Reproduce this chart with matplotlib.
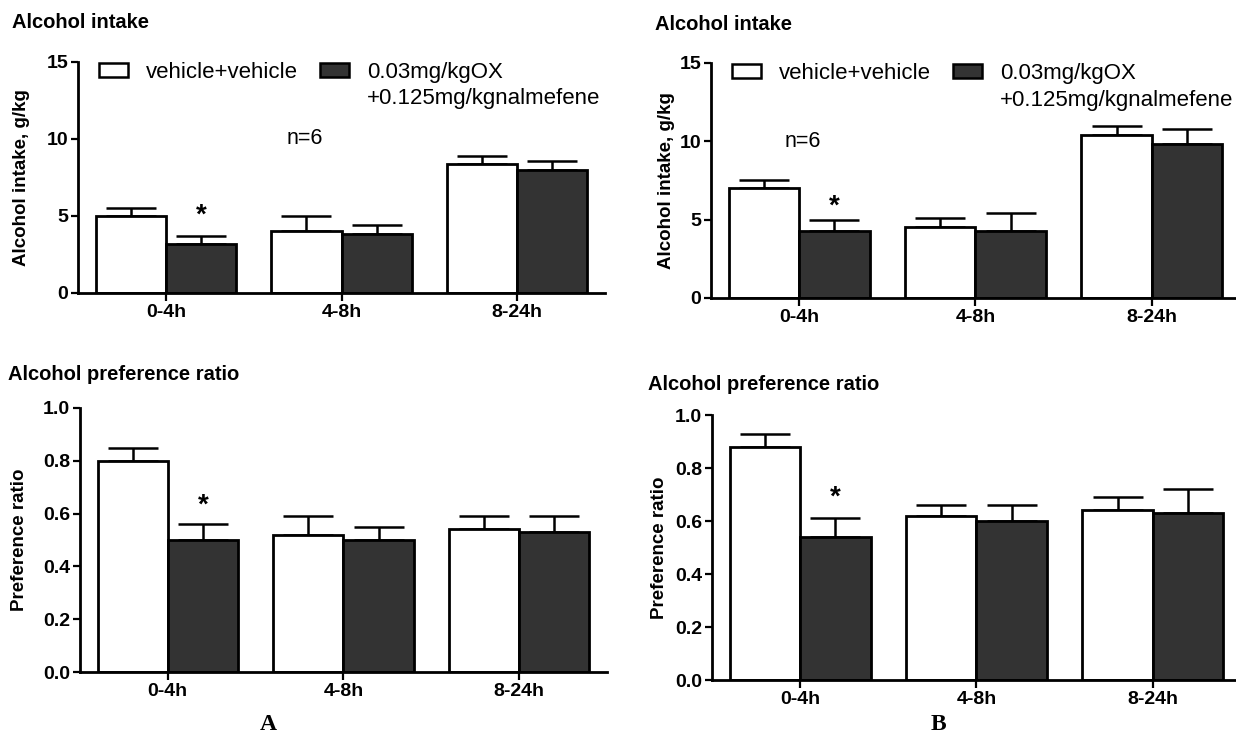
import numpy as np
import matplotlib
matplotlib.use("Agg")
import matplotlib.pyplot as plt
from matplotlib.patches import Patch

plt.rcParams['font.family'] = ['Liberation Sans', 'DejaVu Sans']

# Datos
grupos = ["0-4h", "4-8h", "8-24h"]
etiqueta_vv = "vehicle+vehicle"
etiqueta_ox = "0.03mg/kgOX"
etiqueta_ox2 = "+0.125mg/kgnalmefene"

# Panel A - ingesta de alcohol
a_ing_vv = [5.0, 4.0, 8.4]
a_ing_vv_err = [0.5, 1.0, 0.5]
a_ing_ox = [3.2, 3.8, 8.0]
a_ing_ox_err = [0.5, 0.6, 0.6]

# Panel B - ingesta de alcohol
b_ing_vv = [7.0, 4.5, 10.4]
b_ing_vv_err = [0.5, 0.6, 0.6]
b_ing_ox = [4.3, 4.3, 9.8]
b_ing_ox_err = [0.7, 1.1, 1.0]

# Panel A - ratio de preferencia
a_pref_vv = [0.80, 0.52, 0.54]
a_pref_vv_err = [0.05, 0.07, 0.05]
a_pref_ox = [0.50, 0.50, 0.53]
a_pref_ox_err = [0.06, 0.05, 0.06]

# Panel B - ratio de preferencia
b_pref_vv = [0.88, 0.62, 0.64]
b_pref_vv_err = [0.05, 0.04, 0.05]
b_pref_ox = [0.54, 0.60, 0.63]
b_pref_ox_err = [0.07, 0.06, 0.09]

# asterisco (valor y) y texto n=6
a_ing_star = 5.0
b_ing_star = 5.8
a_pref_star = 0.63
b_pref_star = 0.69
n_texto = "n=6"

OSCURO = '#333333'


def panel(ax, vv, vv_err, ox, ox_err, star_y, ylim, yticks, ytick_fmt, ylabel, label_x):
    x = np.arange(len(grupos))
    w = 0.4
    ax.bar(x - w / 2, vv, w, color='white', edgecolor='black', linewidth=2, zorder=2)
    ax.bar(x + w / 2, ox, w, color=OSCURO, edgecolor='black', linewidth=2, zorder=2)
    ax.errorbar(x - w / 2, vv, yerr=[np.zeros(3), vv_err], fmt='none', ecolor='black',
                elinewidth=1.8, capsize=18, capthick=1.8, zorder=1)
    ax.errorbar(x + w / 2, ox, yerr=[np.zeros(3), ox_err], fmt='none', ecolor='black',
                elinewidth=1.8, capsize=18, capthick=1.8, zorder=1)
    ax.text(x[0] + w / 2, star_y, "*", ha='center', va='center', fontsize=20, fontweight='bold')
    ax.set_xlim(-0.5, 2.5)
    ax.set_ylim(*ylim)
    ax.set_xticks(x)
    ax.set_xticklabels(grupos, fontweight='bold', fontsize=14)
    ax.set_yticks(yticks)
    ax.set_yticklabels([ytick_fmt.format(v) for v in yticks], fontweight='bold', fontsize=14)
    ax.set_ylabel(ylabel, fontweight='bold', fontsize=13.5)
    ax.yaxis.set_label_coords(label_x, 0.5)
    for s in ['top', 'right']:
        ax.spines[s].set_visible(False)
    for s in ['left', 'bottom']:
        ax.spines[s].set_linewidth(2)
    ax.tick_params(axis='both', width=1.6, length=5, direction='out', pad=2)
    ax.tick_params(axis='x', length=6)


def leyenda(ax):
    handles = [Patch(facecolor='white', edgecolor='black', linewidth=1.8),
               Patch(facecolor=OSCURO, edgecolor='black', linewidth=1.8)]
    leg = ax.legend(handles, [etiqueta_vv, etiqueta_ox], ncol=2, loc='center left',
                    bbox_to_anchor=(0.04, 0.955), frameon=False, fontsize=16,
                    handlelength=1.3, handleheight=0.6, columnspacing=1.0, handletextpad=0.8,
                    borderaxespad=0, borderpad=0)
    return leg


fig = plt.figure(figsize=(12.36, 7.35), dpi=100)

axA1 = fig.add_axes([0.0631, 0.6014, 0.4264, 0.3143])
axB1 = fig.add_axes([0.5752, 0.5946, 0.4280, 0.3197])
axA2 = fig.add_axes([0.0647, 0.0857, 0.4264, 0.3592])
axB2 = fig.add_axes([0.5760, 0.0748, 0.4280, 0.3605])

panel(axA1, a_ing_vv, a_ing_vv_err, a_ing_ox, a_ing_ox_err, a_ing_star,
      (0, 15), [0, 5, 10, 15], "{:g}", "Alcohol intake, g/kg", -0.091)
panel(axB1, b_ing_vv, b_ing_vv_err, b_ing_ox, b_ing_ox_err, b_ing_star,
      (0, 15), [0, 5, 10, 15], "{:g}", "Alcohol intake, g/kg", -0.068)
panel(axA2, a_pref_vv, a_pref_vv_err, a_pref_ox, a_pref_ox_err, a_pref_star,
      (0, 1.0), [0, 0.2, 0.4, 0.6, 0.8, 1.0], "{:.1f}", "Preference ratio", -0.099)
panel(axB2, b_pref_vv, b_pref_vv_err, b_pref_ox, b_pref_ox_err, b_pref_star,
      (0, 1.0), [0, 0.2, 0.4, 0.6, 0.8, 1.0], "{:.1f}", "Preference ratio", -0.083)

fig.canvas.draw()
for ax in (axA1, axB1):
    leg = leyenda(ax)
    fig.canvas.draw()
    bb = leg.get_texts()[1].get_window_extent()
    x0 = ax.transAxes.inverted().transform((bb.x0, bb.y0))[0]
    ax.text(x0, 0.84, etiqueta_ox2, transform=ax.transAxes, fontsize=16, va='center')

axA1.text(0.79, 10.0, n_texto, ha='center', va='center', fontsize=15.5)
axB1.text(0.02, 10.0, n_texto, ha='center', va='center', fontsize=15.5)

# titulos
fig.text(12 / 1236, 1 - 22 / 735, "Alcohol intake", fontsize=14.5, fontweight='bold', va='center')
fig.text(655 / 1236, 1 - 24 / 735, "Alcohol intake", fontsize=14.5, fontweight='bold', va='center')
fig.text(8 / 1236, 1 - 375 / 735, "Alcohol preference ratio", fontsize=14.5, fontweight='bold', va='center')
fig.text(648 / 1236, 1 - 385 / 735, "Alcohol preference ratio", fontsize=14.5, fontweight='bold', va='center')

# letras de panel
fig.text(268 / 1236, 1 - 724 / 735, "A", fontsize=17, fontweight='bold', ha='center', va='center',
         family=['Liberation Serif', 'DejaVu Serif'])
fig.text(938 / 1236, 1 - 724 / 735, "B", fontsize=17, fontweight='bold', ha='center', va='center',
         family=['Liberation Serif', 'DejaVu Serif'])

fig.savefig("out.png", dpi=100)
